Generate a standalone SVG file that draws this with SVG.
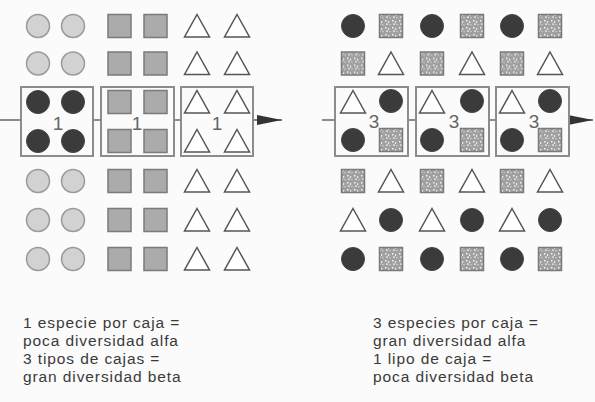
<svg xmlns="http://www.w3.org/2000/svg" width="595" height="402" viewBox="0 0 595 402">
<style>
.lc{fill:#d2d2d2;stroke:#9a9a9a;stroke-width:1.5}
.dc{fill:#3b3b3b;stroke:#444;stroke-width:1}
.sq{fill:#ababab;stroke:#7a7a7a;stroke-width:1.5}
.sp{fill:url(#speck);stroke:#7a7a7a;stroke-width:1.5}
.tr{fill:#fff;stroke:#555;stroke-width:1.5;stroke-linejoin:miter}
.box{fill:none;stroke:#8c8c8c;stroke-width:2}
.con{stroke:#666;stroke-width:1.6;fill:none}
.num{font-family:"Liberation Sans",Arial,sans-serif;font-size:19px;fill:#666;text-anchor:middle}
.cap{font-family:"Liberation Sans",Arial,sans-serif;font-size:15.5px;letter-spacing:0.9px;fill:#3a3a3a}
</style>
<defs>
<symbol id="L" overflow="visible"><circle r="11.5" class="lc"/></symbol>
<symbol id="D" overflow="visible"><circle r="11.5" class="dc"/></symbol>
<symbol id="S" overflow="visible"><rect x="-11.5" y="-11.5" width="23" height="23" class="sq"/></symbol>
<symbol id="P" overflow="visible"><rect x="-11.5" y="-11.5" width="23" height="23" class="sp"/></symbol>
<symbol id="T" overflow="visible"><polygon points="0,-11.5 12.5,11 -12.5,11" class="tr"/></symbol>
<pattern id="speck" width="7" height="7" patternUnits="userSpaceOnUse">
<rect width="7" height="7" fill="#a0a0a0"/>
<rect x="1" y="1" width="1.5" height="1.5" fill="#f2f2f2"/>
<rect x="4" y="2" width="1.2" height="2" fill="#e8e8e8"/>
<rect x="2" y="4.5" width="2" height="1.2" fill="#f0f0f0"/>
<rect x="5.5" y="5" width="1" height="1.2" fill="#e0e0e0"/>
</pattern>
<marker id="ah" markerWidth="26" markerHeight="12" refX="25" refY="5" orient="auto" markerUnits="userSpaceOnUse">
<path d="M0,0 L25,5 L0,10 Z" fill="#333"/>
</marker>
</defs>
<rect width="595" height="402" fill="#fbfbfb"/>

<g id="connectors">
<path class="con" d="M0,120 H21 M93,120 H101 M174,120 H181"/>
<path class="con" d="M253,120 H282" marker-end="url(#ah)"/>
<path class="con" d="M322,120 H335 M408,120 H416 M489,120 H496"/>
<path class="con" d="M569,120 H593" marker-end="url(#ah)"/>
</g>

<g id="left-grid">
<use href="#L" x="38" y="26"/><use href="#L" x="73" y="26"/><use href="#S" x="119.5" y="26"/><use href="#S" x="155.5" y="26"/><use href="#T" x="197" y="26"/><use href="#T" x="237" y="26"/>
<use href="#L" x="38" y="63.5"/><use href="#L" x="73" y="63.5"/><use href="#S" x="119.5" y="63.5"/><use href="#S" x="155.5" y="63.5"/><use href="#T" x="197" y="63.5"/><use href="#T" x="237" y="63.5"/>
<use href="#L" x="38" y="181"/><use href="#L" x="73" y="181"/><use href="#S" x="119.5" y="181"/><use href="#S" x="155.5" y="181"/><use href="#T" x="197" y="181"/><use href="#T" x="237" y="181"/>
<use href="#L" x="38" y="220"/><use href="#L" x="73" y="220"/><use href="#S" x="119.5" y="220"/><use href="#S" x="155.5" y="220"/><use href="#T" x="197" y="220"/><use href="#T" x="237" y="220"/>
<use href="#L" x="38" y="259"/><use href="#L" x="73" y="259"/><use href="#S" x="119.5" y="259"/><use href="#S" x="155.5" y="259"/><use href="#T" x="197" y="259"/><use href="#T" x="237" y="259"/>
</g>

<g id="left-box-1">
<rect class="box" x="21" y="87" width="72" height="69"/>
<use href="#D" x="38" y="102"/><use href="#D" x="73" y="102"/><use href="#D" x="38" y="141"/><use href="#D" x="73" y="141"/>
<text class="num" x="58" y="130">1</text>
</g>
<g id="left-box-2">
<rect class="box" x="101" y="87" width="73" height="69"/>
<use href="#S" x="119.5" y="102"/><use href="#S" x="155.5" y="102"/><use href="#S" x="119.5" y="141"/><use href="#S" x="155.5" y="141"/>
<text class="num" x="137" y="130">1</text>
</g>
<g id="left-box-3">
<rect class="box" x="181" y="87" width="72" height="69"/>
<use href="#T" x="197" y="102"/><use href="#T" x="237" y="102"/><use href="#T" x="197" y="141"/><use href="#T" x="237" y="141"/>
<text class="num" x="217" y="130">1</text>
</g>

<g id="right-grid">
<use href="#D" x="353" y="26"/><use href="#P" x="391" y="26"/><use href="#D" x="432" y="26"/><use href="#P" x="472" y="26"/><use href="#D" x="512" y="26"/><use href="#P" x="550" y="26"/>
<use href="#P" x="353" y="63.5"/><use href="#T" x="391" y="63.5"/><use href="#P" x="432" y="63.5"/><use href="#T" x="472" y="63.5"/><use href="#P" x="512" y="63.5"/><use href="#T" x="550" y="63.5"/>
<use href="#P" x="353" y="181"/><use href="#T" x="391" y="181"/><use href="#P" x="432" y="181"/><use href="#T" x="472" y="181"/><use href="#P" x="512" y="181"/><use href="#T" x="550" y="181"/>
<use href="#T" x="353" y="220"/><use href="#D" x="391" y="220"/><use href="#T" x="432" y="220"/><use href="#D" x="472" y="220"/><use href="#T" x="512" y="220"/><use href="#D" x="550" y="220"/>
<use href="#D" x="353" y="259"/><use href="#P" x="391" y="259"/><use href="#D" x="432" y="259"/><use href="#P" x="472" y="259"/><use href="#D" x="512" y="259"/><use href="#P" x="550" y="259"/>
</g>

<g id="right-box-1">
<rect class="box" x="335" y="87" width="73" height="69"/>
<use href="#T" x="353" y="102"/><use href="#D" x="391" y="101"/><use href="#D" x="353" y="140"/><use href="#P" x="391" y="140"/>
<text class="num" x="374" y="128">3</text>
</g>
<g id="right-box-2">
<rect class="box" x="416" y="87" width="73" height="69"/>
<use href="#T" x="432" y="102"/><use href="#D" x="472" y="101"/><use href="#D" x="432" y="140"/><use href="#P" x="472" y="140"/>
<text class="num" x="454" y="128">3</text>
</g>
<g id="right-box-3">
<rect class="box" x="496" y="87" width="73" height="69"/>
<use href="#T" x="512" y="102"/><use href="#D" x="550" y="101"/><use href="#D" x="512" y="140"/><use href="#P" x="550" y="140"/>
<text class="num" x="534" y="128">3</text>
</g>

<g id="caption-left">
<text class="cap" x="23" y="328">1 especie por caja =</text>
<text class="cap" x="23" y="346">poca diversidad alfa</text>
<text class="cap" x="23" y="364">3 tipos de cajas =</text>
<text class="cap" x="23" y="382">gran diversidad beta</text>
</g>
<g id="caption-right">
<text class="cap" x="373" y="328">3 especies por caja =</text>
<text class="cap" x="373" y="346">gran diversidad alfa</text>
<text class="cap" x="373" y="364">1 lipo de caja =</text>
<text class="cap" x="373" y="382">poca diversidad beta</text>
</g>
</svg>
